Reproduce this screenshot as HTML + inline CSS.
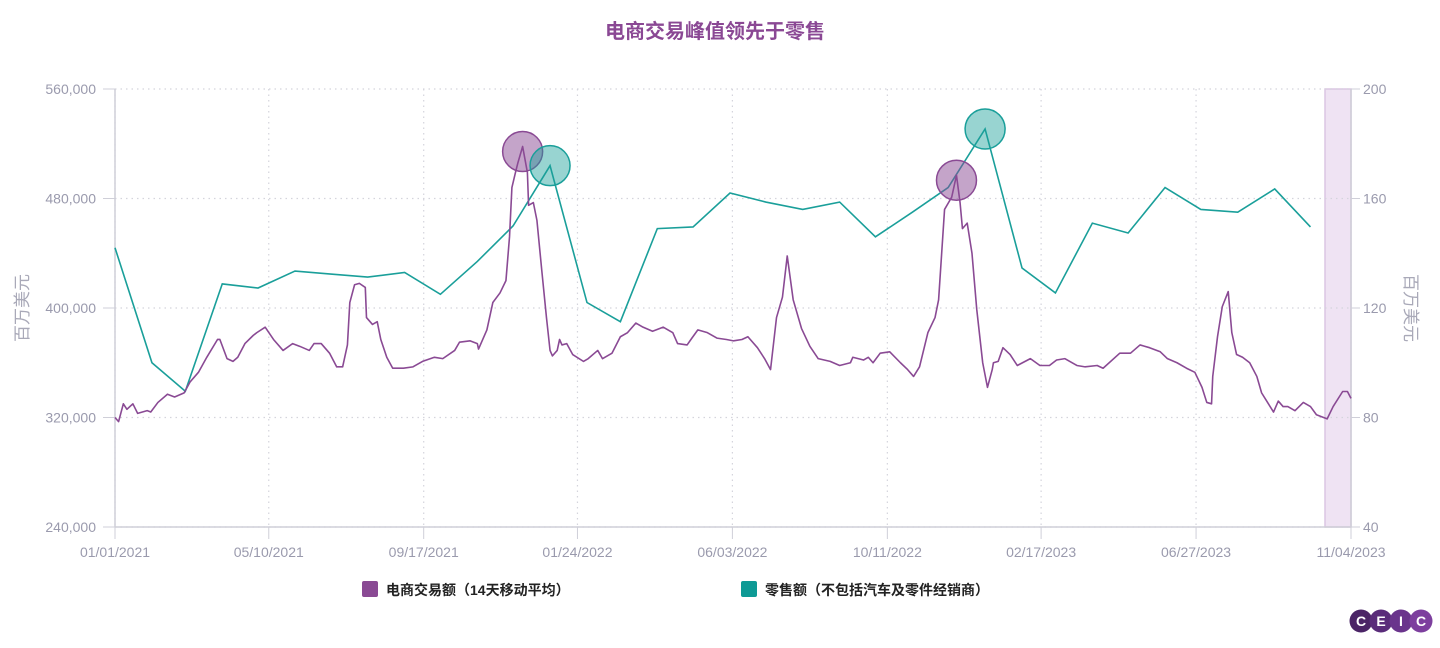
<!DOCTYPE html>
<html><head><meta charset="utf-8">
<style>
html,body{margin:0;padding:0;background:#fff;}
body{width:1440px;height:643px;overflow:hidden;font-family:"Liberation Sans","Noto Sans CJK SC",sans-serif;}
svg text{font-family:"Liberation Sans","Noto Sans CJK SC",sans-serif;}
</style></head>
<body>
<svg id="chart" width="1440" height="643" xmlns="http://www.w3.org/2000/svg">
<text x="715" y="38" text-anchor="middle" font-size="20" font-weight="bold" fill="#8a4894">电商交易峰值领先于零售</text>
<g id="grid"></g>
<g id="axes"></g>
<g id="series"></g>
<text transform="translate(28,308) rotate(-90)" text-anchor="middle" font-size="17" fill="#a9a9b8">百万美元</text>
<text transform="translate(1405,308) rotate(90)" text-anchor="middle" font-size="17" fill="#a9a9b8">百万美元</text>
<g>
<rect x="362" y="581" width="16" height="16" rx="2" fill="#8a4a94"/>
<text x="386" y="595" font-size="14" font-weight="bold" fill="#222">电商交易额（14天移动平均）</text>
</g>
<g>
<rect x="741" y="581" width="16" height="16" rx="2" fill="#0e9a95"/>
<text x="765" y="595" font-size="14" font-weight="bold" fill="#222">零售额（不包括汽车及零件经销商）</text>
</g>
<g font-size="14" font-weight="bold" fill="#fff" text-anchor="middle">
<circle cx="1361" cy="621" r="11.5" fill="#4b2466"/>
<circle cx="1381" cy="621" r="11.5" fill="#5a2c7a"/>
<circle cx="1401" cy="621" r="11.5" fill="#6a348c"/>
<circle cx="1421" cy="621" r="11.5" fill="#7d3f9e"/>
<text x="1361" y="626">C</text><text x="1381" y="626">E</text><text x="1401" y="626">I</text><text x="1421" y="626">C</text>
</g>
</svg>
<script>
// ---- data ----
const leftTicks = [240000, 320000, 400000, 480000, 560000];
const rightTicks = [40, 80, 120, 160, 200];
const xTickLabels = ["01/01/2021","05/10/2021","09/17/2021","01/24/2022","06/03/2022","10/11/2022","02/17/2023","06/27/2023","11/04/2023"];
// e-commerce: day offset from 2021-01-01, value in thousand
const ecomDays = [0,3,7,10,15,19,27,30,36,44,50,58,63,70,77,86,88,94,99,103,109,116,119,126,133,141,149,155,163,167,173,180,186,191,195,197,201,205,210,211,216,220,223,228,233,242,250,258,268,275,285,289,298,304,305,312,317,323,328,331,333,336,338,342,346,347,351,354,358,362,365,367,371,373,375,379,384,393,397,405,409,417,424,430,437,443,451,460,468,472,480,484,489,497,505,513,519,526,531,539,545,550,555,560,564,569,576,583,590,600,608,617,619,628,632,636,642,650,659,665,670,675,682,688,691,696,702,706,709,711,715,719,723,728,732,736,737,741,745,751,757,768,776,784,790,797,807,814,824,829,843,852,860,868,877,883,891,899,906,912,916,920,921,925,929,934,937,941,946,952,958,962,967,972,976,980,984,990,997,1003,1008,1017,1022,1030,1034,1037];
const ecomValues = [320,317,330,326,330,323,325,324,331,337,335,338,346,353,364,377,377,363,361,364,374,380,382,386,377,369,374,372,369,374,374,367,357,357,373,404,417,418,415,393,388,390,377,364,356,356,357,361,364,363,369,375,376,374,370,384,404,411,420,452,488,499,506,518,499,475,477,464,428,393,369,365,369,377,373,374,366,361,363,369,363,367,379,382,389,386,383,386,382,374,373,378,384,382,378,377,376,377,379,371,363,355,393,408,438,406,385,372,363,361,358,360,364,362,364,360,367,368,360,355,350,357,382,393,406,472,481,497,477,458,462,440,399,360,342,355,360,361,371,366,358,363,358,358,362,363,358,357,358,356,367,367,373,371,368,363,360,356,353,342,331,330,350,379,401,412,382,366,364,360,350,338,331,324,332,328,328,325,331,328,322,319,328,339,339,334];
// retail: monthly from Jan 2021, value in million
const retailMonths = ["2021-01","2021-02","2021-03","2021-04","2021-05","2021-06","2021-07","2021-08","2021-09","2021-10","2021-11","2021-12","2022-01","2022-02","2022-03","2022-04","2022-05","2022-06","2022-07","2022-08","2022-09","2022-10","2022-11","2022-12","2023-01","2023-02","2023-03","2023-04","2023-05","2023-06","2023-07","2023-08","2023-09","2023-10"];
const retailValues = [142,100,89.6,128.8,127.3,133.5,132.4,131.3,133,125,137,150,172,122,115,149,149.6,162,158.7,156,158.7,146,155,164,185.4,134.6,125.5,151,147.4,164,156,155,163.5,149.6];

// ---- scales ----
const X0=115, X1=1351, Y0=527, Y1=89;
const D0=Date.UTC(2021,0,1), D1=Date.UTC(2023,10,4);
const dayMs=86400000, totalDays=(D1-D0)/dayMs;
const xDay=d=>X0+(d/totalDays)*(X1-X0);
const xDate=ms=>xDay((ms-D0)/dayMs);
const yL=v=>Y0-(v-240000)/(560000-240000)*(Y0-Y1);
const yR=v=>Y0-(v-40)/(200-40)*(Y0-Y1);
const NS="http://www.w3.org/2000/svg";
function mk(tag,attrs,parent){const e=document.createElementNS(NS,tag);for(const k in attrs)e.setAttribute(k,attrs[k]);parent.appendChild(e);return e;}
const grid=document.getElementById('grid'), axes=document.getElementById('axes'), series=document.getElementById('series');
const labelColor="#9a9aad";

let band=mk('rect',{x:1325,y:Y1,width:X1-1325,height:Y0-Y1,fill:"#efe3f3",stroke:"#dcc6e3","stroke-width":1.5},grid);



leftTicks.forEach((t,i)=>{
  const y=yL(t);
  let g=mk('line',{x1:X0,x2:X1,y1:y,y2:y,stroke:"#d4d4dc","stroke-dasharray":"1.5,4","stroke-width":1.2},grid);
  
  
  mk('line',{x1:103,x2:X0,y1:y,y2:y,stroke:"#cfcfd8"},axes);
  let tl=mk('text',{x:96,y:y+5,"text-anchor":"end","font-size":14,fill:labelColor},axes);
  tl.textContent=t.toLocaleString('en-US');
  
  
});
rightTicks.forEach(t=>{
  const y=yR(t);
  mk('line',{x1:X1,x2:X1+9,y1:y,y2:y,stroke:"#cfcfd8"},axes);
  let tl=mk('text',{x:X1+12,y:y+5,"font-size":14,fill:labelColor},axes);
  tl.textContent=t;
  
  
});
xTickLabels.forEach(s=>{
  const [m,d,yy]=s.split('/').map(Number);
  const x=xDate(Date.UTC(yy,m-1,d));
  let g=mk('line',{x1:x,x2:x,y1:Y1,y2:Y0,stroke:"#d4d4dc","stroke-dasharray":"1.5,4","stroke-width":1.2},grid);
  
  
  mk('line',{x1:x,x2:x,y1:Y0,y2:Y0+12,stroke:"#cfcfd8"},axes);
  let tl=mk('text',{x:x,y:Y0+30,"text-anchor":"middle","font-size":14,fill:labelColor},axes);
  tl.textContent=s;
  
  
});
mk('line',{x1:X0,x2:X0,y1:Y1,y2:Y0,stroke:"#cfcfd8","stroke-width":1.5},axes);
mk('line',{x1:X1,x2:X1,y1:Y1,y2:Y0,stroke:"#cfcfd8","stroke-width":1.5},axes);
mk('line',{x1:X0,x2:X1,y1:Y0,y2:Y0,stroke:"#cfcfd8","stroke-width":1.5},axes);

const rPts=retailMonths.map((s,i)=>{const [y,m]=s.split('-').map(Number);return [xDate(Date.UTC(y,m-1,1)),yR(retailValues[i])];});
let rl=mk('polyline',{points:rPts.map(p=>p.join(',')).join(' '),fill:"none",stroke:"#1a9f9a","stroke-width":1.6},series);


const ePts=ecomDays.map((d,i)=>[xDay(d),yL(ecomValues[i]*1000)]);
let el=mk('polyline',{points:ePts.map(p=>p.join(',')).join(' '),fill:"none",stroke:"#8a4a94","stroke-width":1.6,"stroke-linejoin":"round"},series);



function peakIdx(arr,lo,hi,getX){let b=-1;arr.forEach((v,i)=>{const x=getX(i);if(x>=lo&&x<=hi&&(b<0||v>arr[b]))b=i;});return b;}
[[400,600],[900,1000]].forEach((r,k)=>{
  const ei=peakIdx(ecomValues,r[0],r[1],i=>ePts[i][0]);
  let c=mk('circle',{cx:ePts[ei][0],cy:ePts[ei][1]+5,r:20,fill:"rgba(138,74,148,0.5)",stroke:"#8a4a94","stroke-width":1.5},series);
  
  
  const ri=peakIdx(retailValues,r[0],r[1]+10,i=>rPts[i][0]);
  let c2=mk('circle',{cx:rPts[ri][0],cy:rPts[ri][1],r:20,fill:"rgba(26,159,154,0.45)",stroke:"#1a9f9a","stroke-width":1.5},series);
  
  
});
</script>
</body></html>
